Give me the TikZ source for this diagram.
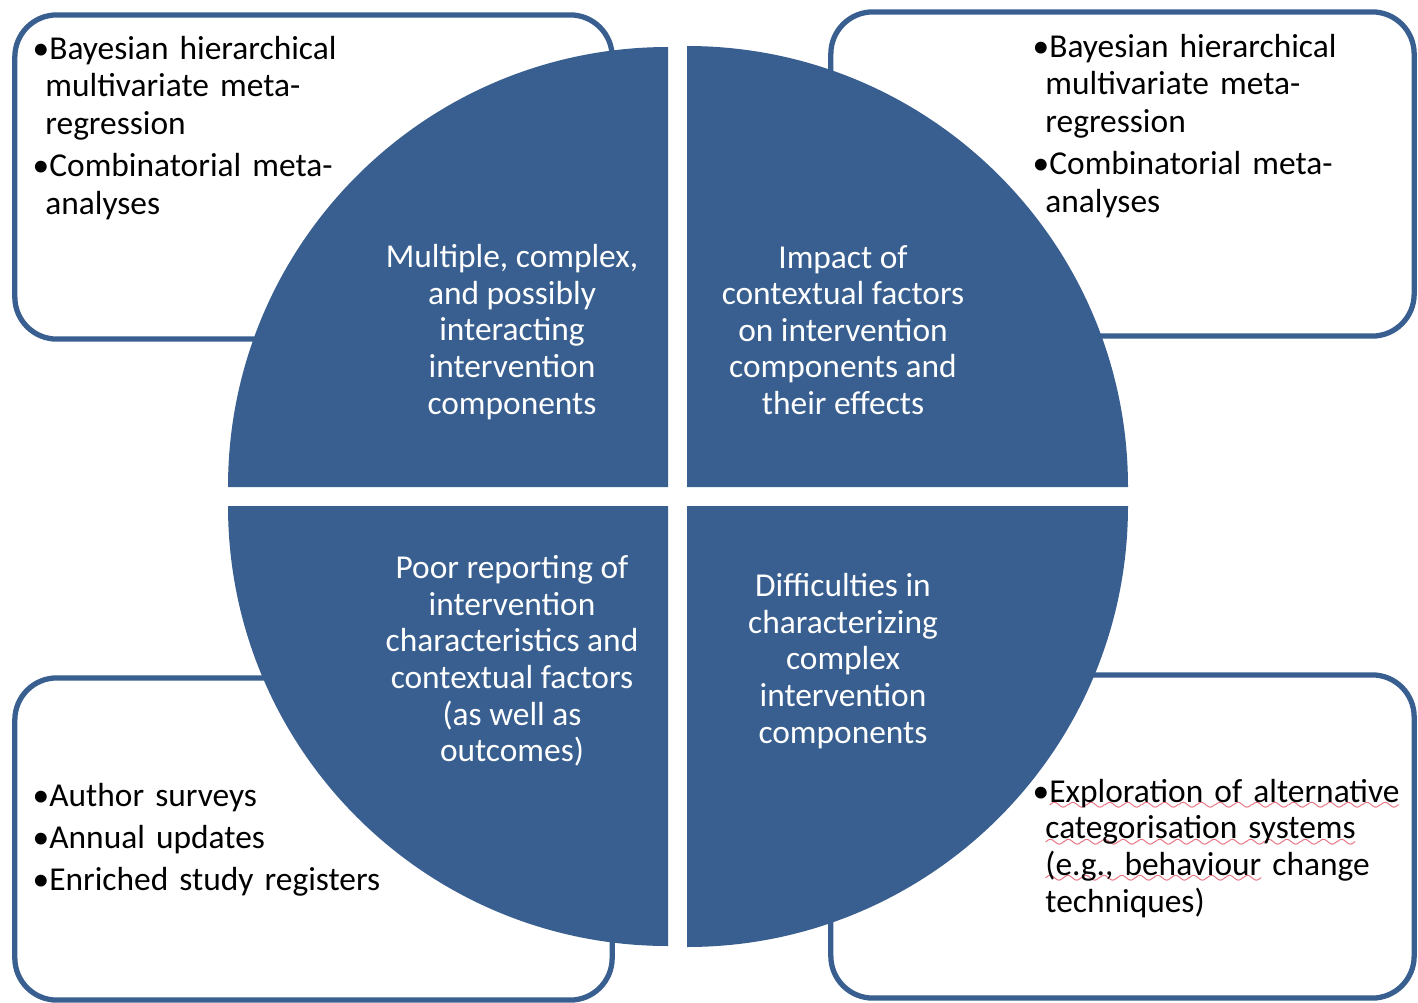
\documentclass[tikz,border=0pt]{standalone}
\usepackage{fontspec}
\setmainfont{Carlito}
\usepackage{xcolor}
\usetikzlibrary{positioning}
\definecolor{matrixblue}{RGB}{56,95,143}
\definecolor{wavered}{RGB}{232,110,125}
\tikzstyle{listbox}=[rectangle,rounded corners=0.42cm,draw=matrixblue,line width=1.5pt,fill=white]
\tikzstyle{quadrant}=[fill=matrixblue]
\tikzstyle{issue}=[text=white,align=center,inner sep=0pt,font=\fontsize{9.5}{10.4}\selectfont]
\tikzstyle{bullets}=[text=black,text width=4cm,inner sep=0pt,anchor=north west,font=\fontsize{9.5}{10.7}\selectfont]
\newcommand{\bline}[1]{\par\noindent\textbullet#1}
\newcommand{\contline}[1]{\par\noindent\hspace*{0.38em}#1}
\newcommand{\itemgap}{\par\vspace{1.2pt}}
\font\wavefont=lasy6
\newcommand{\spellwave}[1]{\setbox0\hbox{#1}\rlap{\textcolor{wavered}{\lower2.4pt\hbox to\wd0{\xleaders\hbox{\wavefont\char58}\hfil}}}\box0\relax}

\begin{document}
\begin{tikzpicture}[x=0.01cm,y=-0.01cm]
            \useasboundingbox (0,0) rectangle (1418,1003);
            \node (box1)[listbox,minimum width=5.97cm,minimum height=3.24cm] at (313.5,177) {};
            \node (box2)[listbox,minimum width=5.83cm,minimum height=3.24cm] at (1122.5,174) {};
            \node (box3)[listbox,minimum width=5.97cm,minimum height=3.22cm] at (313.5,839) {};
            \node (box4)[listbox,minimum width=5.83cm,minimum height=3.23cm] at (1122.5,836.5) {};
            \fill[quadrant] (668,487) -- (228,487) arc[start angle=180,end angle=270,radius=440] -- cycle;
            \fill[quadrant] (687,487) -- (687,46) arc[start angle=270,end angle=360,radius=441] -- cycle;
            \fill[quadrant] (668,506) -- (668,946) arc[start angle=90,end angle=180,radius=440] -- cycle;
            \fill[quadrant] (687,506) -- (1128,506) arc[start angle=0,end angle=90,radius=441] -- cycle;
            \node (issue1)[issue] at (512,332) {Multiple, complex,\\and possibly\\interacting\\intervention\\components};
            \node (issue2)[issue] at (843,330) {Impact of\\contextual factors\\on intervention\\components and\\their effects};
            \node (issue3)[issue] at (512,661) {Poor reporting of\\intervention\\characteristics and\\contextual factors\\(as well as\\outcomes)};
            \node (issue4)[issue] at (843,661) {Difficulties in\\characterizing\\complex\\intervention\\components};
            \node (list1)[bullets] at (32,21) {\bline{Bayesian hierarchical}\contline{multivariate meta-}\contline{regression}\itemgap\bline{Combinatorial meta-}\contline{analyses}};
            \node (list2)[bullets] at (1032,19) {\bline{Bayesian hierarchical}\contline{multivariate meta-}\contline{regression}\itemgap\bline{Combinatorial meta-}\contline{analyses}};
            \node (list3)[bullets] at (32,768) {\bline{Author surveys}\itemgap\bline{Annual updates}\itemgap\bline{Enriched study registers}};
            \node (list4)[bullets,font=\fontsize{9.5}{10.4}\selectfont] at (1032,765) {\bline{\spellwave{Exploration of alternative}}\contline{\spellwave{categorisation systems}}\contline{\spellwave{(e.g., behaviour} change}\contline{techniques)}};
        \end{tikzpicture}
\end{document}
